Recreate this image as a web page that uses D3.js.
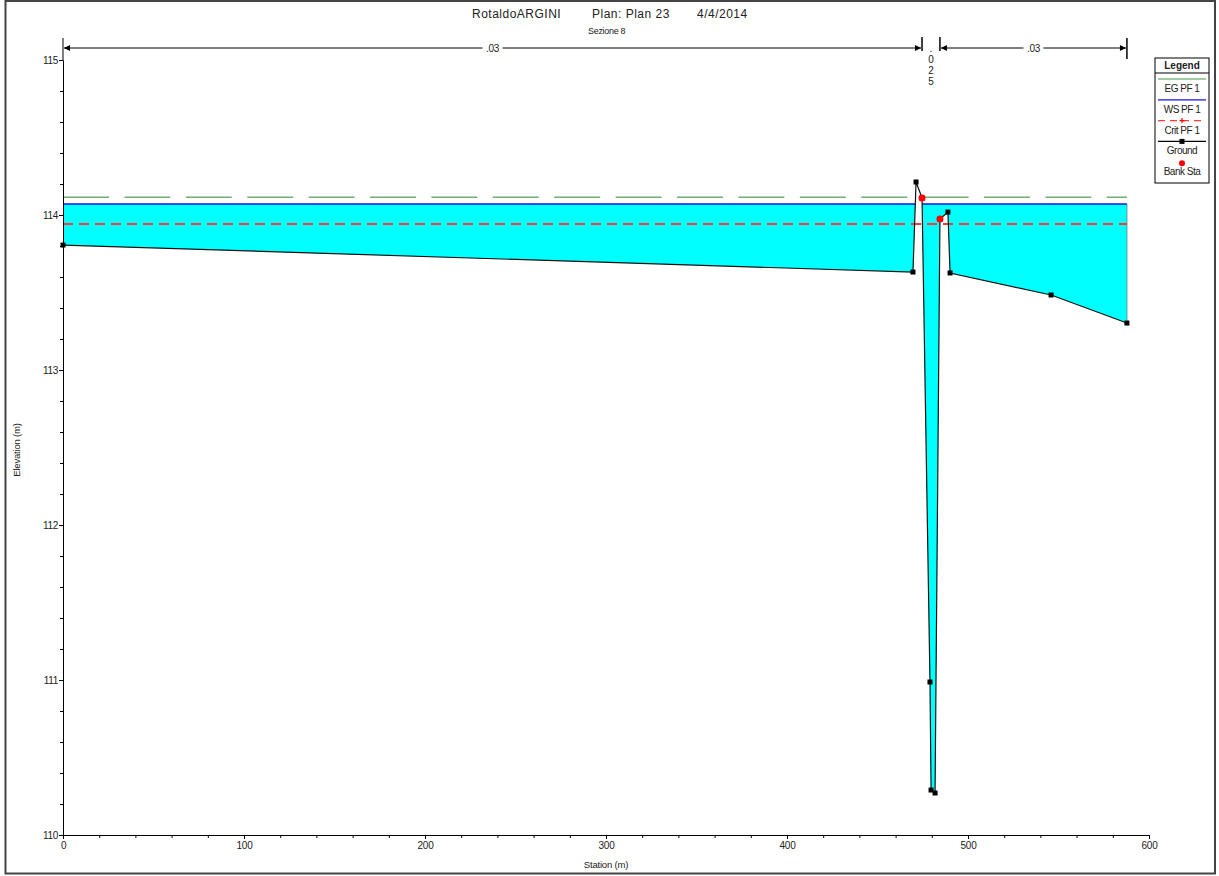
<!DOCTYPE html>
<html>
<head>
<meta charset="utf-8">
<script src="https://cdn.jsdelivr.net/npm/d3@7"></script>
<style>
  body { margin: 0; background: #fff; }
  text { font-family: "Liberation Sans", Arial, sans-serif; fill: #222; }
</style>
</head>
<body>
<div id="chart"></div>
<script>
// cross section data
var stations = [0, 469.6, 471.3, 474.6, 479.0, 479.6, 481.8, 484.5, 488.9, 490.1, 545.9, 587.8];
var groundElev = [113.806, 113.632, 114.213, 114.110, 110.987, 110.290, 110.271, 113.974, 114.019, 113.626, 113.484, 113.303];
var bankStations = [474.6, 484.5];
var bankElev = [114.110, 113.974];
var wsElev = 114.071;
var egElev = 114.115;
var critElev = 113.944;
var nValues = [".03", ".025", ".03"];
var nBreaks = [0, 474.6, 484.5, 587.8];
var xTicks = [0, 100, 200, 300, 400, 500, 600];
var yTicks = [110, 111, 112, 113, 114, 115];
var legendNames = ["EG PF 1", "WS PF 1", "Crit PF 1", "Ground", "Bank Sta"];

var W = 1219, H = 876;

var svg = d3.select("#chart")
  .append("svg")
    .attr("width", W)
    .attr("height", H);

// outer frame
svg.append("rect")
  .attr("x", 5.5).attr("y", 1)
  .attr("width", 1209.5).attr("height", 872.5)
  .attr("fill", "none")
  .attr("stroke", "#444")
  .attr("stroke-width", 2);

var x = d3.scaleLinear().domain([0, 600]).range([63, 1149]);
var y = d3.scaleLinear().domain([110, 115]).range([835, 60]);

// titles
svg.append("text").attr("x", 472).attr("y", 18).style("font-size", "12px").style("letter-spacing", "0.5px").text("RotaldoARGINI");
svg.append("text").attr("x", 592).attr("y", 18).style("font-size", "12px").style("letter-spacing", "0.5px").text("Plan: Plan 23");
svg.append("text").attr("x", 697).attr("y", 18).style("font-size", "12px").style("letter-spacing", "0.5px").text("4/4/2014");
svg.append("text").attr("x", 588).attr("y", 34).style("font-size", "9px").style("letter-spacing", "-0.3px").text("Sezione 8");

// axis labels
svg.append("text")
  .attr("transform", "rotate(-90)")
  .attr("x", -450).attr("y", 20)
  .attr("text-anchor", "middle")
  .style("font-size", "9.5px")
  .style("letter-spacing", "-0.2px")
  .text("Elevation (m)");
svg.append("text")
  .attr("x", 606).attr("y", 868)
  .attr("text-anchor", "middle")
  .style("font-size", "9.5px")
  .style("letter-spacing", "-0.2px")
  .text("Station (m)");

// water fill : add the crossing points with the water surface
var pts = [];
for (var i = 0; i < stations.length; i++) {
  pts.push({s: stations[i], g: groundElev[i]});
  if (i < stations.length - 1 && (groundElev[i] - wsElev) * (groundElev[i + 1] - wsElev) < 0) {
    var t = (wsElev - groundElev[i]) / (groundElev[i + 1] - groundElev[i]);
    pts.push({s: stations[i] + t * (stations[i + 1] - stations[i]), g: wsElev});
  }
}

var area = d3.area()
  .x(function(d) { return x(d.s); })
  .y0(function(d) { return y(Math.min(d.g, wsElev)); })
  .y1(function(d) { return y(wsElev); });

svg.append("path")
  .datum(pts)
  .attr("d", area)
  .attr("fill", "#00ffff")
  .attr("stroke", "none");

// right edge of the water
svg.append("line")
  .attr("x1", x(stations[stations.length - 1])).attr("x2", x(stations[stations.length - 1]))
  .attr("y1", y(wsElev)).attr("y2", y(groundElev[groundElev.length - 1]))
  .attr("stroke", "#4a9a9a").attr("stroke-width", 1);

// EG line
svg.append("line")
  .attr("x1", x(stations[0])).attr("x2", x(stations[stations.length - 1]))
  .attr("y1", y(egElev)).attr("y2", y(egElev))
  .attr("stroke", "#72b072")
  .attr("stroke-width", 1.5)
  .attr("stroke-dasharray", "46,15.4");

// WS line, only where wet
var wsLine = d3.line()
  .defined(function(d) { return d.g <= wsElev + 1e-9; })
  .x(function(d) { return x(d.s); })
  .y(function(d) { return y(wsElev); });
svg.append("path")
  .datum(pts)
  .attr("d", wsLine)
  .attr("fill", "none")
  .attr("stroke", "#1010ee")
  .attr("stroke-width", 1.6);

// crit line
svg.append("line")
  .attr("x1", x(stations[0])).attr("x2", x(stations[stations.length - 1]))
  .attr("y1", Math.round(y(critElev))).attr("y2", Math.round(y(critElev)))
  .attr("stroke", "#ff3a3a")
  .attr("stroke-width", 2)
  .attr("shape-rendering", "crispEdges")
  .attr("stroke-dasharray", "10,6");

// ground
var groundLine = d3.line()
  .x(function(d) { return x(d.s); })
  .y(function(d) { return y(d.g); });
var groundPts = stations.map(function(s, i) { return {s: s, g: groundElev[i]}; });
svg.append("path")
  .datum(groundPts)
  .attr("d", groundLine)
  .attr("fill", "none")
  .attr("stroke", "#111")
  .attr("stroke-width", 1.2);
svg.selectAll(".gmark")
  .data(groundPts)
  .enter()
  .append("rect")
    .attr("class", "gmark")
    .attr("x", function(d) { return x(d.s) - 2.5; })
    .attr("y", function(d) { return y(d.g) - 2.5; })
    .attr("width", 5).attr("height", 5)
    .attr("fill", "#000");

// bank stations
svg.selectAll(".bank")
  .data(bankStations)
  .enter()
  .append("circle")
    .attr("class", "bank")
    .attr("cx", function(d) { return x(d); })
    .attr("cy", function(d, i) { return y(bankElev[i]); })
    .attr("r", 3.5)
    .attr("fill", "#ff0000");

// axes
var xMinor = d3.range(0, 601, 20);
var yMinor = d3.range(110, 115.01, 0.2);

svg.append("g")
  .attr("transform", "translate(0,835)")
  .call(d3.axisBottom(x).tickValues(xMinor).tickSize(3).tickFormat("").tickSizeOuter(0));
var xAxis = svg.append("g")
  .attr("transform", "translate(0,835)")
  .call(d3.axisBottom(x).tickValues(xTicks).tickSize(4).tickPadding(3).tickFormat(d3.format("d")).tickSizeOuter(0));
xAxis.selectAll("text").style("font-size", "10px").style("letter-spacing", "-0.3px").attr("fill", "#333");

svg.append("g")
  .attr("transform", "translate(63,0)")
  .call(d3.axisLeft(y).tickValues(yMinor).tickSize(3).tickFormat("").tickSizeOuter(0));
var yAxis = svg.append("g")
  .attr("transform", "translate(63,0)")
  .call(d3.axisLeft(y).tickValues(yTicks).tickSize(4).tickPadding(1).tickFormat(d3.format("d")).tickSizeOuter(0));
yAxis.selectAll("text").style("font-size", "10px").style("letter-spacing", "-0.3px").attr("fill", "#333");

// y axis goes up to the n-value strip
svg.append("line")
  .attr("x1", 63).attr("x2", 63)
  .attr("y1", 38).attr("y2", y(115))
  .attr("stroke", "#000");

// manning n values
svg.append("defs").append("marker")
  .attr("id", "arr")
  .attr("viewBox", "0 0 10 10")
  .attr("refX", 10).attr("refY", 5)
  .attr("markerWidth", 7).attr("markerHeight", 6)
  .attr("markerUnits", "userSpaceOnUse")
  .attr("orient", "auto-start-reverse")
  .append("path")
    .attr("d", "M0,0L10,5L0,10z")
    .attr("fill", "#000");

var nY = 48;
var barTop = [38, 37, 37, 38], barBottom = [60, 51, 51, 59];
nBreaks.forEach(function(b, i) {
  if (i == 0) return;
  svg.append("line")
    .attr("x1", x(b)).attr("x2", x(b))
    .attr("y1", barTop[i]).attr("y2", barBottom[i])
    .attr("stroke", "#000").attr("stroke-width", 1.5);
});

nValues.forEach(function(n, i) {
  var x0 = x(nBreaks[i]), x1 = x(nBreaks[i + 1]);
  var mid = (x0 + x1) / 2;
  if (x1 - x0 > 40) {
    svg.append("line")
      .attr("x1", x0 + 1).attr("x2", x1 - 1)
      .attr("y1", nY).attr("y2", nY)
      .attr("stroke", "#000")
      .attr("marker-start", "url(#arr)")
      .attr("marker-end", "url(#arr)");
    svg.append("rect")
      .attr("x", mid - 10).attr("y", nY - 5)
      .attr("width", 20).attr("height", 10)
      .attr("fill", "#fff");
    svg.append("text")
      .attr("x", mid).attr("y", nY + 3.5)
      .attr("text-anchor", "middle")
      .style("font-size", "10px")
      .style("letter-spacing", "-0.3px")
      .text(n);
  } else {
    n.split("").forEach(function(c, j) {
      svg.append("text")
        .attr("x", mid).attr("y", 52 + j * 11)
        .attr("text-anchor", "middle")
        .style("font-size", "10px")
        .text(c);
    });
  }
});

// legend
var lg = svg.append("g").attr("transform", "translate(1155,58)");
lg.append("rect")
  .attr("width", 54).attr("height", 125)
  .attr("fill", "#fff")
  .attr("stroke", "#000");
lg.append("line").attr("x1", 0).attr("x2", 54).attr("y1", 15).attr("y2", 15).attr("stroke", "#000");
lg.append("text")
  .attr("x", 27).attr("y", 11)
  .attr("text-anchor", "middle")
  .style("font-size", "10px").style("font-weight", "bold")
  .text("Legend");

legendNames.forEach(function(name, i) {
  var ly = 21 + i * 20.8;
  if (i == 0) {
    lg.append("line").attr("x1", 3).attr("x2", 51).attr("y1", ly).attr("y2", ly)
      .attr("stroke", "#4a9a4a").attr("stroke-width", 1.2);
  } else if (i == 1) {
    lg.append("line").attr("x1", 3).attr("x2", 51).attr("y1", ly).attr("y2", ly)
      .attr("stroke", "#1010ee").attr("stroke-width", 1.2);
  } else if (i == 2) {
    lg.append("line").attr("x1", 3).attr("x2", 51).attr("y1", ly).attr("y2", ly)
      .attr("stroke", "#ff3a3a").attr("stroke-width", 1.2).attr("stroke-dasharray", "7,5");
    lg.append("path")
      .attr("d", "M24.5," + ly + "H29.5M27," + (ly - 2.5) + "V" + (ly + 2.5))
      .attr("stroke", "#ff0000").attr("stroke-width", 1.2);
  } else if (i == 3) {
    lg.append("line").attr("x1", 3).attr("x2", 51).attr("y1", ly).attr("y2", ly)
      .attr("stroke", "#000").attr("stroke-width", 1.2);
    lg.append("rect").attr("x", 24.5).attr("y", ly - 2.5).attr("width", 5).attr("height", 5).attr("fill", "#000");
  } else {
    lg.append("circle").attr("cx", 27).attr("cy", ly + 1).attr("r", 3).attr("fill", "#ff0000");
  }
  lg.append("text")
    .attr("x", 27).attr("y", ly + 13)
    .attr("text-anchor", "middle")
    .style("font-size", "10px")
    .style("letter-spacing", "-0.5px")
    .text(name);
});
</script>
</body>
</html>
